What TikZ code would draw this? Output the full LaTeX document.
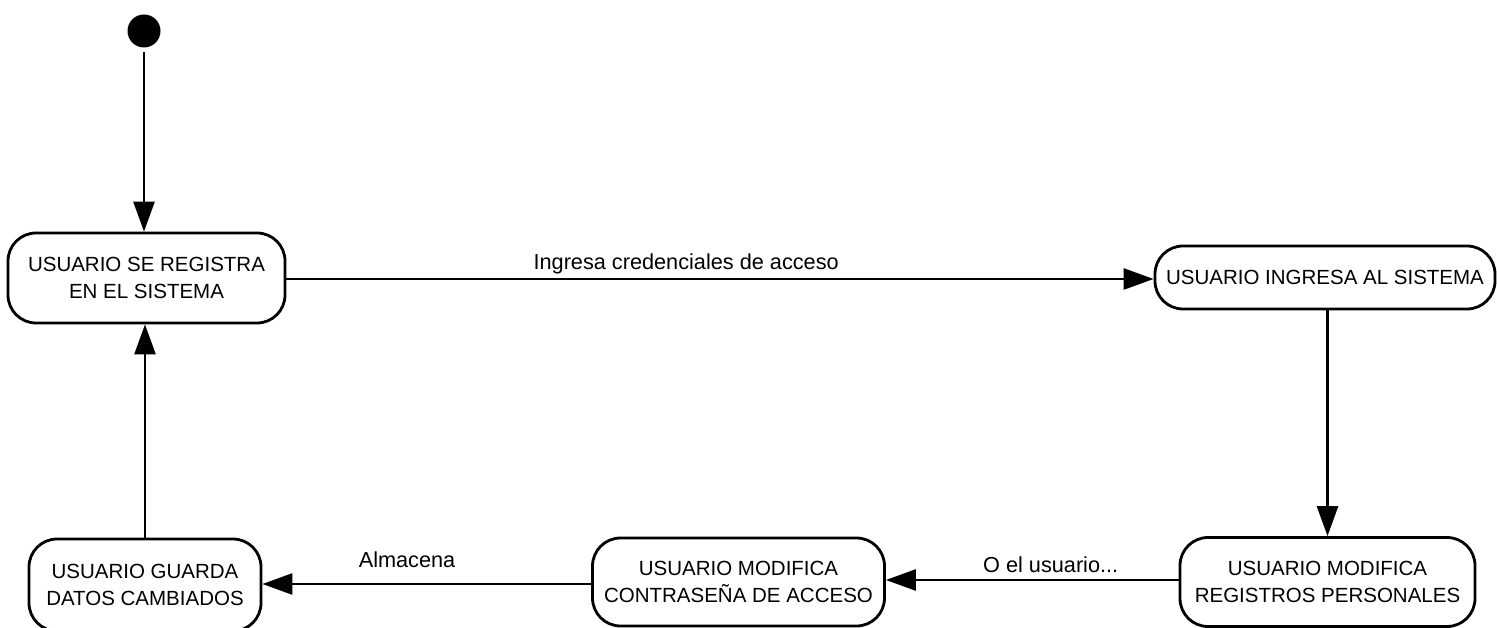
\documentclass[tikz,border=0pt]{standalone}
\usepackage{fontspec}
\setmainfont{Liberation Sans}
\usetikzlibrary{arrows.meta}
\begin{document}
\begin{tikzpicture}[x=1pt,y=-1pt,
  state/.style={draw, line width=2.8pt, rounded corners=28pt, inner sep=0pt, align=center,
    font=\fontsize{20.5}{27}\selectfont},
  arr/.style={line width=2.8pt, -{Triangle[length=30pt,width=21pt]}},
  lbl/.style={font=\fontsize{21.7}{24}\selectfont, inner sep=0pt, anchor=base}]
\useasboundingbox (0,0) rectangle (1497,628);
\clip (0,0) rectangle (1497,628);
\fill[white] (0,0) rectangle (1497,628);
\node[circle, fill, minimum size=33pt, inner sep=0pt] (init) at (144,31) {};
\node[state, minimum width=277pt, minimum height=90pt] (A) at (146.5,278) {USUARIO SE REGISTRA\\EN EL SISTEMA};
\node[state, minimum width=340pt, minimum height=63pt] (B) at (1325,277.5) {USUARIO INGRESA AL SISTEMA};
\node[state, minimum width=295pt, minimum height=89pt] (C) at (1327.5,582) {USUARIO MODIFICA\\REGISTROS PERSONALES};
\node[state, minimum width=292pt, minimum height=88pt] (D) at (738.5,582) {USUARIO MODIFICA\\CONTRASEÑA DE ACCESO};
\node[state, minimum width=232pt, minimum height=92pt] (E) at (145,585) {USUARIO GUARDA\\DATOS CAMBIADOS};
\draw[arr, shorten <=4pt] (init) -- (init |- A.north);
\draw[arr] (A.east |- 0,279) -- (B.west |- 0,279) node[lbl, pos=0.461, yshift=9pt] (l1) {Ingresa credenciales de acceso};
\draw[arr] (C.north |- B.south) -- (C.north);
\draw[arr] (C.west |- 0,580) -- (D.east |- 0,580) node[lbl, pos=0.437, yshift=8pt] (l2) {O el usuario...};
\draw[arr] (D.west |- 0,584) -- (E.east |- 0,584) node[lbl, pos=0.56, yshift=17pt] (l3) {Almacena};
\draw[arr] (E.north) -- (E.north |- A.south);
\end{tikzpicture}
\end{document}
